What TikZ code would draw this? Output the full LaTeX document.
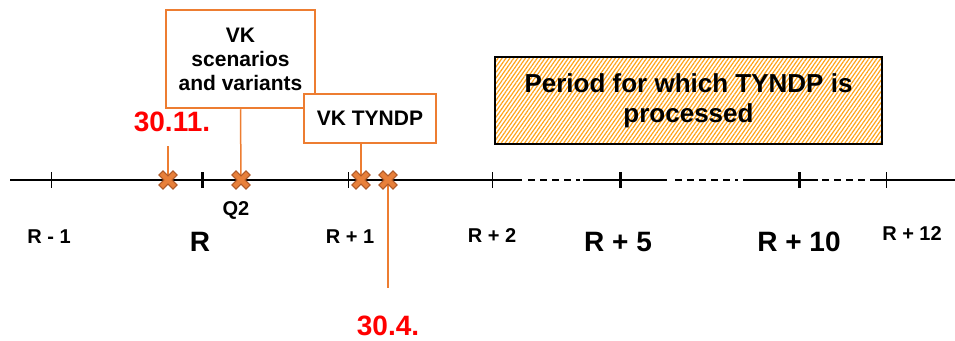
\documentclass[tikz,border=0pt]{standalone}
\usepackage{fontspec}
\setmainfont{Liberation Sans}
\usetikzlibrary{patterns.meta}
\definecolor{boxorange}{HTML}{ED7D31}
\definecolor{hatchorange}{HTML}{FFA31A}
\definecolor{xfill}{HTML}{E8803A}
\definecolor{xedge}{HTML}{B05A28}
\definecolor{datered}{HTML}{FF0000}
\tikzset{
  vkbox/.style={draw=boxorange,line width=2.5pt,fill=white,align=center,
    inner sep=0pt,font=\fontsize{21}{24}\selectfont\bfseries},
  link/.style={boxorange,line width=1.5pt},
  datelab/.style={text=datered,font=\fontsize{28}{30}\selectfont\bfseries},
  xmark/.pic={
    \draw[xedge,line width=7pt,line cap=rect] (-5,-5)--(5,5) (-5,5)--(5,-5);
    \draw[xfill,line width=4.5pt,line cap=rect] (-5,-5)--(5,5) (-5,5)--(5,-5);
  }
}

\begin{document}
\begin{tikzpicture}[x=1pt,y=-1pt,font=\bfseries]
  \useasboundingbox (0,0) rectangle (955,340);
  % time line
  \draw[line width=1.8pt] (10,180)--(522,180) (583,180)--(667,180)
    (743,180)--(818,180) (873,180)--(955,180);
  \draw[line width=1.5pt,dash pattern=on 7pt off 5pt]
    (528,180)--(580,180) (675,180)--(738,180) (822,180)--(873,180);
  \foreach \x/\w in {51/1,202/3,348/1,492/1,620/3,799/3,886/1} {
    \draw[line width=\w pt] (\x,172)--(\x,188);
  }
  % year labels
  \foreach \x/\y/\sz/\lab [count=\i] in {49/237/20/{R - 1},200/242/28/{R},
      350/237/20/{R + 1},492/236/20/{R + 2},618/242/28/{R + 5},
      799/242/28/{R + 10},912/234/20/{R + 12}} {
    \node[font=\fontsize{\sz}{\sz}\selectfont\bfseries] (yr\i) at (\x,\y) {\lab};
  }
  \node[font=\fontsize{20}{20}\selectfont\bfseries] (q2) at (236,210) {Q2};
  % milestones
  \coordinate (c1) at (168,180);
  \coordinate (c2) at (241,180);
  \coordinate (c3) at (361,180);
  \coordinate (c4) at (388,180);
  \coordinate (e1) at (168,146);
  \coordinate (e4) at (388,288);
  \node[vkbox,minimum width=149pt,minimum height=98pt] (scen) at (240.5,59)
    {VK\\scenarios\\and variants};
  \node[vkbox,minimum width=132pt,minimum height=49pt] (tyndp) at (370,118.5)
    {VK TYNDP};
  \node[draw,line width=1.8pt,inner sep=0pt,align=center,
    pattern={Lines[angle=55,distance=3.2pt,line width=1.2pt]},pattern color=hatchorange,
    minimum width=387pt,minimum height=87pt,font=\fontsize{26}{30}\selectfont\bfseries]
    (period) at (688.5,100.5) {Period for which TYNDP is\\processed};
  \node[datelab] (d1) at (172,122) {30.11.};
  \node[datelab] (d2) at (388,326) {30.4.};
  \draw[link] (e1)--(c1);
  \draw[link] (scen.south)--(c2);
  \draw[link] (c3 |- tyndp.south)--(c3);
  \draw[link] (c4)--(e4);
  \foreach \c in {c1,c2,c3,c4} {
    \pic at (\c) {xmark};
  }
\end{tikzpicture}
\end{document}
